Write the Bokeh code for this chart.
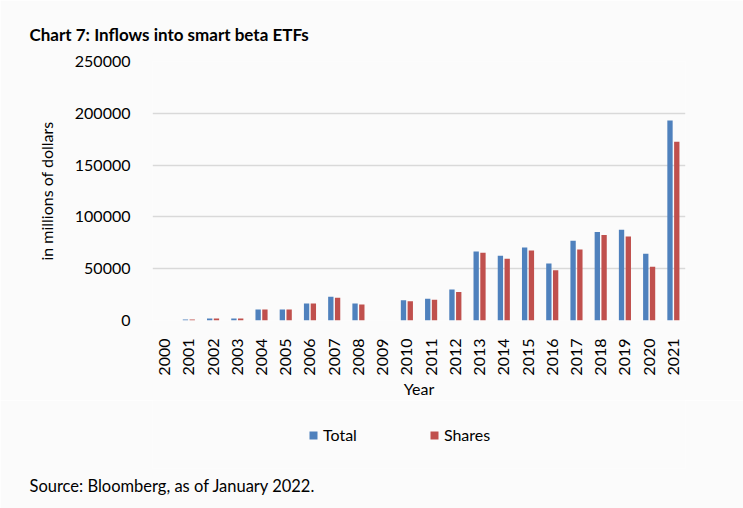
import math
from bokeh.plotting import figure
from bokeh.layouts import column
from bokeh.models import ColumnDataSource, Range1d, Legend, LegendItem, Title
from bokeh.transform import dodge
from bokeh.embed import file_html
from bokeh.resources import INLINE

years = [str(y) for y in range(2000, 2022)]
total = [0, 1000, 2000, 2000, 10500, 10500, 16500, 23000, 16500, 0, 19500, 21000,
         30000, 66500, 62500, 70500, 55000, 77000, 85500, 87500, 64500, 193000]
shares = [0, 1000, 2000, 2000, 10500, 10500, 16500, 22000, 15500, 0, 18500, 20000,
          27500, 65500, 59500, 67500, 48500, 68500, 82500, 81000, 52000, 172500]

FONT = "Lato"
BG = "#fbfbfb"
GRID = "#d9d9d9"
BLUE = "#4f81bd"
RED = "#c0504d"

src = ColumnDataSource(data=dict(years=years, total=total, shares=shares))

# main chart
p = figure(x_range=years, y_range=Range1d(0, 250000), width=743, height=400,
           output_backend="svg", toolbar_location=None, tools="",
           min_border_left=152, min_border_right=58, min_border_top=61, min_border_bottom=78,
           background_fill_color=BG, border_fill_color=BG, outline_line_color=None)
p.x_range.range_padding = 0

p.vbar(x=dodge("years", -0.14, range=p.x_range), top="total", width=0.22,
       source=src, fill_color=BLUE, line_color=None)
p.vbar(x=dodge("years", 0.14, range=p.x_range), top="shares", width=0.22,
       source=src, fill_color=RED, line_color=None)

p.xgrid.grid_line_color = None
p.ygrid.grid_line_color = GRID
p.ygrid.grid_line_width = 1.5

for ax in (p.xaxis[0], p.yaxis[0]):
    ax.axis_line_color = None
    ax.major_tick_line_color = None
    ax.minor_tick_line_color = None
    ax.major_label_text_font = FONT
    ax.major_label_text_font_size = "16px"
    ax.major_label_text_color = "#000000"
    ax.axis_label_text_font = FONT
    ax.axis_label_text_font_size = "16px"
    ax.axis_label_text_font_style = "normal"
    ax.axis_label_text_color = "#000000"

p.yaxis.ticker = [0, 50000, 100000, 150000, 200000, 250000]
p.yaxis.formatter.use_scientific = False
p.yaxis.major_label_standoff = 16
p.yaxis.axis_label = "in millions of dollars"
p.yaxis.axis_label_standoff = 16

p.xaxis.major_label_orientation = math.pi / 2
p.xaxis.major_label_standoff = 12
p.xaxis.axis_label = "Year"
p.xaxis.axis_label_standoff = 0

p.add_layout(Title(text="Chart 7: Inflows into smart beta ETFs", align="left", offset=-123,
                   standoff=33, text_font=FONT, text_font_size="17px",
                   text_font_style="bold", text_color="#000000"), "above")

# legend + source strip underneath (frame lines up with the chart above)
foot = figure(width=743, height=108, x_range=Range1d(0, 1), y_range=Range1d(0, 1),
              output_backend="svg", toolbar_location=None, tools="",
              x_axis_location=None, y_axis_location=None,
              min_border_left=152, min_border_right=58, min_border_top=0, min_border_bottom=40,
              background_fill_color=BG, border_fill_color=BG, outline_line_color=None)
foot.grid.grid_line_color = None

key_total = foot.vbar(x=[0], top=[0], width=0, fill_color=BLUE, line_color=None)
key_shares = foot.vbar(x=[0], top=[0], width=0, fill_color=RED, line_color=None)

legend = Legend(items=[LegendItem(label="Total", renderers=[key_total]),
                       LegendItem(label="Shares", renderers=[key_shares])],
                location=(156, 24), orientation="horizontal",
                glyph_width=10, glyph_height=10, label_standoff=5, spacing=72,
                padding=0, margin=0, border_line_color=None, background_fill_alpha=0,
                label_text_font=FONT, label_text_font_size="16px", label_text_color="#000000")
foot.add_layout(legend)

foot.add_layout(Title(text="Source: Bloomberg, as of January 2022.", align="left", offset=-123,
                      standoff=11, text_font=FONT, text_font_size="16.5px",
                      text_font_style="normal", text_color="#000000"), "below")

layout = column(p, foot, spacing=0)
open("out.html", "w").write(file_html(layout, INLINE))
